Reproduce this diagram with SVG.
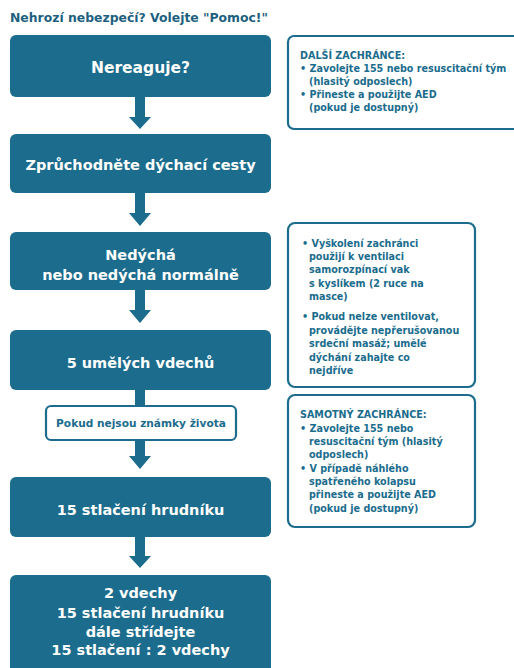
<svg xmlns="http://www.w3.org/2000/svg" width="514" height="668" viewBox="0 0 514 668">
<style>
.box{fill:#1b6c8d;}
.note{fill:#fff;stroke:#1b6c8d;stroke-width:2.2;}
.t{font-family:"DejaVu Sans","Liberation Sans",sans-serif;font-weight:700;fill:#fff;text-anchor:middle;font-size:14.5px;}
.n{font-family:"DejaVu Sans","Liberation Sans",sans-serif;font-weight:700;fill:#1b6c8d;font-size:9.6px;}
.arr{fill:#1b6c8d;}
</style>
<rect width="514" height="668" fill="#fff"/>
<text x="10" y="22" style="font-family:'DejaVu Sans','Liberation Sans',sans-serif;font-weight:700;font-size:12.4px;fill:#1d5f80">Nehrozí nebezpečí? Volejte "Pomoc!"</text>

<g id="connectors">
<polygon class="arr" points="135,96 145,96 145,117 151,117 140,129 129,117 135,117"/>
<polygon class="arr" points="135,192 145,192 145,213 151,213 140,226 129,213 135,213"/>
<polygon class="arr" points="135,289 145,289 145,310 151,310 140,323 129,310 135,310"/>
<rect class="arr" x="135" y="389" width="10" height="17"/>
<polygon class="arr" points="135,440 145,440 145,456 151,456 140,469 129,456 135,456"/>
<polygon class="arr" points="135,536 145,536 145,556 151,556 140,568 129,556 135,556"/>
</g>

<g id="n1"><rect class="box" x="10" y="35" width="261" height="62" rx="6"/><text class="t" x="140.5" y="73" style="font-size:15.5px">Nereaguje?</text></g>
<g id="n2"><rect class="box" x="10" y="134" width="261" height="59" rx="6"/><text class="t" x="140.5" y="170">Zprůchodněte dýchací cesty</text></g>
<g id="n3"><rect class="box" x="10" y="232" width="261" height="58" rx="6"/><text class="t" x="140.5" y="260">Nedýchá</text><text class="t" x="140.5" y="280">nebo nedýchá normálně</text></g>
<g id="n4"><rect class="box" x="10" y="330" width="261" height="60" rx="6"/><text class="t" x="140.5" y="368">5 umělých vdechů</text></g>
<g id="n5"><rect class="note" x="46" y="406" width="190" height="34" rx="5"/><text class="n" x="141" y="427" text-anchor="middle" style="font-size:10.6px">Pokud nejsou známky života</text></g>
<g id="n6"><rect class="box" x="10" y="477" width="261" height="60" rx="6"/><text class="t" x="140.5" y="515">15 stlačení hrudníku</text></g>
<g id="n7"><rect class="box" x="10" y="575" width="261" height="100" rx="6"/><text class="t" x="140.5" y="598">2 vdechy</text><text class="t" x="140.5" y="618">15 stlačení hrudníku</text><text class="t" x="140.5" y="637">dále střídejte</text><text class="t" x="140.5" y="655">15 stlačení : 2 vdechy</text></g>

<g id="r1"><rect class="note" x="288" y="36" width="236" height="93" rx="6"/>
<text class="n" x="300" y="59">DALŠÍ ZACHRÁNCE:</text>
<text class="n" x="300" y="72">• Zavolejte 155 nebo resuscitační tým</text>
<text class="n" x="309" y="85">(hlasitý odposlech)</text>
<text class="n" x="300" y="98">• Přineste a použijte AED</text>
<text class="n" x="309" y="111">(pokud je dostupný)</text>
</g>
<g id="r2"><rect class="note" x="288" y="223" width="187" height="164" rx="7"/>
<text class="n" x="302" y="247">• Vyškolení zachránci</text>
<text class="n" x="309" y="260">použijí k ventilaci</text>
<text class="n" x="309" y="273">samorozpínací vak</text>
<text class="n" x="309" y="287">s kyslíkem (2 ruce na</text>
<text class="n" x="309" y="300">masce)</text>
<text class="n" x="302" y="320">• Pokud nelze ventilovat,</text>
<text class="n" x="309" y="334">provádějte nepřerušovanou</text>
<text class="n" x="309" y="347">srdeční masáž; umělé</text>
<text class="n" x="309" y="361">dýchání zahajte co</text>
<text class="n" x="309" y="374">nejdříve</text>
</g>
<g id="r3"><rect class="note" x="288" y="395" width="187" height="132" rx="7"/>
<text class="n" x="300" y="418">SAMOTNÝ ZACHRÁNCE:</text>
<text class="n" x="300" y="432">• Zavolejte 155 nebo</text>
<text class="n" x="309" y="445">resuscitační tým (hlasitý</text>
<text class="n" x="309" y="458">odposlech)</text>
<text class="n" x="300" y="472">• V případě náhlého</text>
<text class="n" x="309" y="485">spatřeného kolapsu</text>
<text class="n" x="309" y="498">přineste a použijte AED</text>
<text class="n" x="309" y="512">(pokud je dostupný)</text>
</g>
</svg>
